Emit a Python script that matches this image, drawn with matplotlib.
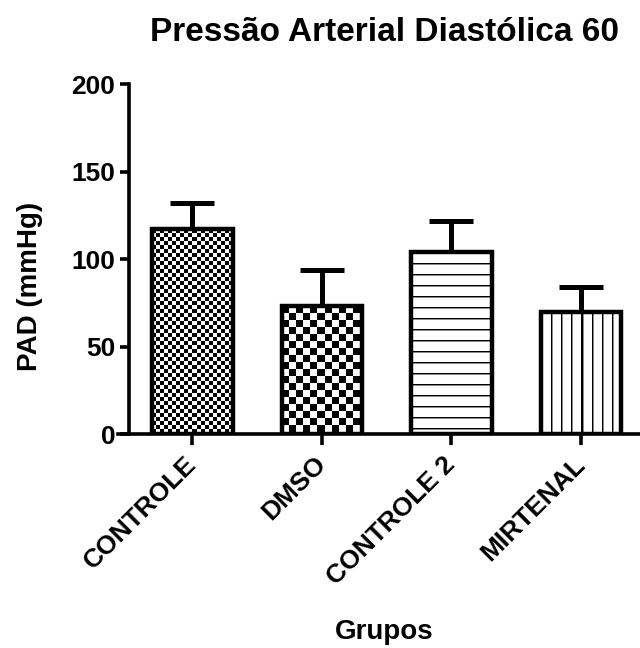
import numpy as np
import matplotlib
matplotlib.use('Agg')
import matplotlib.pyplot as plt

grupos = ['CONTROLE', 'DMSO', 'CONTROLE 2', 'MIRTENAL']
media = [117, 73, 104, 70]
erro = [15, 21, 18, 14]
texturas = ['xadrez_fino', 'xadrez', 'horizontal', 'vertical']

plt.rcParams['font.family'] = ['Liberation Sans', 'DejaVu Sans']
plt.rcParams['font.weight'] = 'bold'


def textura(nome, h, w):
    # 1 = branco, 0 = preto
    i, j = np.mgrid[0:h, 0:w]
    if nome == 'xadrez_fino':
        return ((i // 4 + j // 4) % 2).astype(float)
    if nome == 'xadrez':
        return ((i // 7 + j // 7) % 2).astype(float)
    if nome == 'horizontal':
        arr = np.ones((h, w))
        arr[i % 11 == 0] = 0
        arr[i % 11 == 1] = 0.55
        return arr
    arr = np.ones((h, w))
    arr[j % 10 == 0] = 0
    arr[j % 10 == 1] = 0.55
    return arr


fig = plt.figure(figsize=(6.4, 6.48), dpi=100)
ax = fig.add_axes([0.2016, 0.330, 0.7984, 0.540])
x = np.arange(len(grupos))
largura = 0.62
xlim = (-0.49, 3.456)
ax.set_xlim(*xlim)
ax.set_ylim(0, 200)

# barras brancas por baixo, textura recortada, contorno por cima
barras = ax.bar(x, media, width=largura, color='white', edgecolor='none', zorder=3)
ax.errorbar(x, media, yerr=[np.zeros(len(erro)), erro], fmt='none', ecolor='black',
            elinewidth=3.6, capsize=15.5, capthick=3.6, zorder=2)

for b, nome in zip(barras, texturas):
    x0, y0 = b.get_x(), b.get_y()
    x1, y1 = x0 + b.get_width(), y0 + b.get_height()
    p0 = ax.transData.transform((x0, y0))
    p1 = ax.transData.transform((x1, y1))
    w = int(round(abs(p1[0] - p0[0])))
    h = int(round(abs(p1[1] - p0[1])))
    im = ax.imshow(textura(nome, h, w), cmap='gray', vmin=0, vmax=1,
                   extent=[x0, x1, y0, y1], aspect='auto',
                   interpolation='nearest', zorder=4)
    im.set_clip_path(b)

ax.bar(x, media, width=largura, fill=False, edgecolor='black', linewidth=3.2, zorder=5)
ax.set_xlim(*xlim)
ax.set_ylim(0, 200)

ax.spines['top'].set_visible(False)
ax.spines['right'].set_visible(False)
ax.spines['left'].set_linewidth(2.6)
ax.spines['bottom'].set_linewidth(2.6)
ax.spines['bottom'].set_bounds(xlim[0] - 0.085, xlim[1])
ax.spines['bottom'].set_clip_on(False)

ax.set_yticks([0, 50, 100, 150, 200])
ax.tick_params(axis='y', length=6.5, width=2.6, labelsize=19, pad=3.5)
ax.tick_params(axis='x', length=8, width=2.6, labelsize=19, pad=11)
ax.set_xticks(x)
ax.set_xticklabels(grupos, rotation=45, ha='right', va='center', rotation_mode='anchor')

ax.set_ylabel('PAD (mmHg)', fontsize=20, fontweight='bold')
ax.yaxis.set_label_coords(-0.168, 0.423)
ax.set_xlabel('Grupos', fontsize=20, fontweight='bold')
ax.xaxis.set_label_coords(0.5, -0.566)
ax.xaxis.label.set_va('center')
ax.set_title('Pressão Arterial Diastólica 60', fontsize=24, fontweight='bold', pad=31)

fig.savefig('out.png', dpi=100)
